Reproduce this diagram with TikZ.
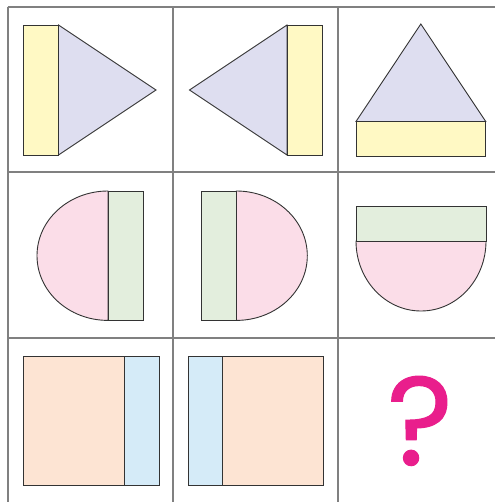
\documentclass[tikz,border=0pt]{standalone}
\usepackage{fontspec}
\newfontfamily\qfont{Poppins}[FakeBold=0.8]
\definecolor{gridc}{HTML}{808080}
\definecolor{edgec}{HTML}{333333}
\definecolor{ylw}{HTML}{FFF9C4}
\definecolor{lav}{HTML}{DEDEF0}
\definecolor{pnk}{HTML}{FBDDE8}
\definecolor{grn}{HTML}{E3EEDD}
\definecolor{pch}{HTML}{FDE4D3}
\definecolor{blu}{HTML}{D5EBF8}
\definecolor{qpink}{HTML}{E91E8C}
\tikzset{
  gridline/.style={draw=gridc, line width=2pt},
  shp/.style={draw=edgec, line width=0.9pt, line join=miter},
}
\begin{document}
\begin{tikzpicture}[x=1pt,y=-1pt]
\useasboundingbox (0,0) rectangle (495,502);
\fill[white] (0,0) rectangle (495,502);
% grid
\draw[gridline] (7.5,7.5) -- (495,7.5);
\draw[gridline] (7.5,172.5) -- (495,172.5);
\draw[gridline] (7.5,337.5) -- (495,337.5);
\draw[gridline] (7.5,7.5) -- (7.5,502);
\draw[gridline] (172.7,7.5) -- (172.7,502);
\draw[gridline] (337.7,7.5) -- (337.7,502);
% row 1
\draw[shp, fill=lav] (58.5,25) -- (156,90) -- (58.5,155) -- cycle;
\draw[shp, fill=ylw] (23.5,25) rectangle (58.5,155);
\draw[shp, fill=lav] (287,25) -- (189.5,90) -- (287,155) -- cycle;
\draw[shp, fill=ylw] (287,25) rectangle (322,155);
\draw[shp, fill=lav] (356,121.5) -- (420.8,24) -- (485.7,121.5) -- cycle;
\draw[shp, fill=ylw] (356,121.5) rectangle (485.7,156);
% row 2
\draw[shp, fill=pnk] (108,191) arc[start angle=-90, end angle=-270, x radius=71, y radius=64.7] -- cycle;
\draw[shp, fill=grn] (108,191) rectangle (143.3,320.4);
\draw[shp, fill=pnk] (236.3,191) arc[start angle=-90, end angle=90, x radius=71, y radius=64.7] -- cycle;
\draw[shp, fill=grn] (201,191) rectangle (236.3,320.4);
\draw[shp, fill=pnk] (356,241) arc[start angle=180, end angle=0, x radius=65, y radius=70] -- cycle;
\draw[shp, fill=grn] (356,206) rectangle (486,241);
% row 3
\draw[shp, fill=pch] (23.3,356) rectangle (124.3,485.3);
\draw[shp, fill=blu] (124.3,356) rectangle (159.3,485.3);
\draw[shp, fill=blu] (188,356) rectangle (222,485.3);
\draw[shp, fill=pch] (222,356) rectangle (323,485.3);
% question mark
\node[text=qpink, font=\qfont\fontsize{126}{126}\selectfont, inner sep=0pt, anchor=base] (q) at (420,465) {?};
\end{tikzpicture}
\end{document}
